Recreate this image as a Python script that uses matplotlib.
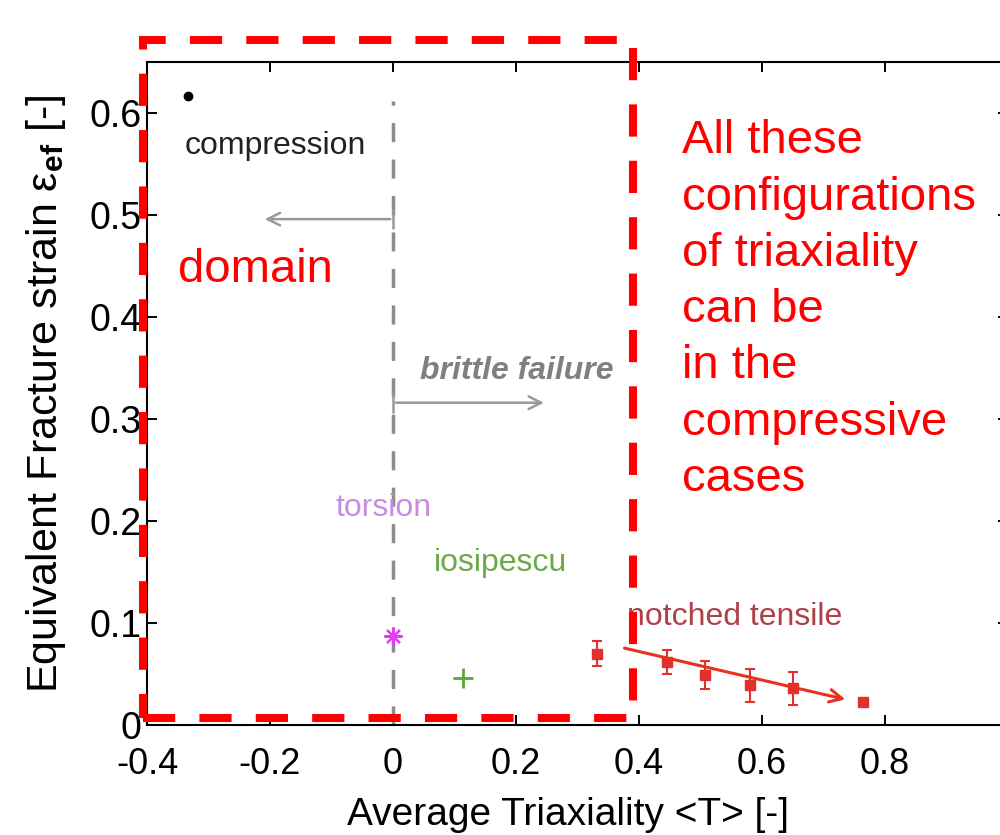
import matplotlib
matplotlib.use("Agg")
import matplotlib.pyplot as plt
from matplotlib.patches import Rectangle

plt.rcParams['font.family'] = ['Liberation Sans', 'DejaVu Sans']
plt.rcParams['mathtext.fontset'] = 'custom'
plt.rcParams['mathtext.rm'] = 'Liberation Sans'
plt.rcParams['mathtext.bf'] = 'Liberation Sans:bold'
plt.rcParams['mathtext.it'] = 'Liberation Sans:italic'

# ---- data ----
compression_x = [-0.333]
compression_y = [0.617]
torsion_x = [0.0]
torsion_y = [0.087]
iosipescu_x = [0.114]
iosipescu_y = [0.046]
notched_x = [0.332, 0.446, 0.507, 0.580, 0.650, 0.764]
notched_y = [0.070, 0.062, 0.049, 0.039, 0.036, 0.023]
notched_err = [0.012, 0.012, 0.014, 0.016, 0.016, 0.0]
trend_start = (0.372, 0.076)
trend_end = (0.740, 0.0245)
x_ticks = [-0.4, -0.2, 0, 0.2, 0.4, 0.6, 0.8]
x_tick_labels = ['-0.4', '-0.2', '0', '0.2', '0.4', '0.6', '0.8']
y_ticks = [0, 0.1, 0.2, 0.3, 0.4, 0.5, 0.6]
y_tick_labels = ['0', '0.1', '0.2', '0.3', '0.4', '0.5', '0.6']

fig = plt.figure(figsize=(10, 8.35), dpi=100)
ax = fig.add_axes([0.147, 0.1317, 0.861, 0.794])
ax.set_xlim(-0.4, 1.0)
ax.set_ylim(0, 0.65)

gray = '#8c8c8c'
# vertical dashed line at T=0
ax.plot([0, 0], [0, 0.612], color=gray, lw=2.5, ls=(0, (5.5, 5)), zorder=2)
# arrows
ax.annotate('', xy=(-0.213, 0.496), xytext=(0, 0.496),
            arrowprops=dict(arrowstyle='->,head_length=0.9,head_width=0.45', color='#999999', lw=1.8))
ax.annotate('', xy=(0.250, 0.316), xytext=(0, 0.316),
            arrowprops=dict(arrowstyle='->,head_length=0.9,head_width=0.45', color='#999999', lw=1.8))
ax.plot([0, 0], [0.496, 0.316], ls='none', marker='|', ms=14, mew=1.8, color='#999999')

# data
ax.plot(compression_x, compression_y, 'o', color='black', ms=6, zorder=5)
ax.plot(torsion_x, torsion_y, ls='none', marker=(8, 2, 0), ms=13, mew=1.6, color='#e040f0', zorder=5)
ax.plot(iosipescu_x, iosipescu_y, ls='none', marker='+', ms=14, mew=2, color='#5aa832', zorder=5)
ax.errorbar(notched_x[:5], notched_y[:5], yerr=notched_err[:5], fmt='s', color='#e03030',
            ms=7, capsize=3.5, elinewidth=1.5, capthick=1.5, zorder=5)
ax.plot(notched_x[5:], notched_y[5:], 's', color='#e03030', ms=7, zorder=5)
ax.annotate('', xy=trend_end, xytext=trend_start,
            arrowprops=dict(arrowstyle='->,head_length=0.9,head_width=0.45', color='#e8321e', lw=2.2),
            zorder=6)

# labels in plot
ax.text(-0.192, 0.5675, 'compression', fontsize=23, color='#222222', ha='center', va='center')
ax.text(-0.016, 0.213, 'torsion', fontsize=23, color='#c58ee0', ha='center', va='center')
ax.text(0.174, 0.1585, 'iosipescu', fontsize=23, color='#6aaa4a', ha='center', va='center')
ax.text(0.556, 0.1057, 'notched tensile', fontsize=23, color='#b04048', ha='center', va='center')
ax.text(0.2016, 0.347, 'brittle failure', fontsize=23, color='#808080', ha='center', va='center',
        fontweight='bold', fontstyle='italic')

# axes styling
ax.set_xticks(x_ticks)
ax.set_xticklabels(x_tick_labels)
ax.set_yticks(y_ticks)
ax.set_yticklabels(y_tick_labels)
ax.tick_params(direction='in', length=7, width=1.4, top=True, right=True, labelsize=27)
ax.tick_params(axis='x', pad=16, labelsize=26)
ax.tick_params(axis='y', pad=4)
for s in ax.spines.values():
    s.set_linewidth(1.5)
ax.set_xlabel('Average Triaxiality <T> [-]', fontsize=28)
ax.set_ylabel('Equivalent Fracture strain ε$_{\\mathbf{ef}}$ [-]', fontsize=31)
ax.xaxis.set_label_coords(0.489, -0.108)
ax.yaxis.set_label_coords(-0.092, 0.5)

# red annotation overlay
rect = Rectangle((0.143, 0.140), 0.490, 0.812, transform=fig.transFigure, fill=False,
                 edgecolor='#ff0000', lw=5.8, ls=(0, (4, 3)), clip_on=False, zorder=10)
fig.add_artist(rect)
fig.text(0.178, 0.6766, 'domain', fontsize=34, color='#ff0000', ha='left', va='center')
fig.text(0.682, 0.857, 'All these\nconfigurations\nof triaxiality\ncan be\nin the\ncompressive\ncases',
         fontsize=34, color='#ff0000', ha='left', va='top', linespacing=1.36)

fig.savefig('out.png', dpi=100)
